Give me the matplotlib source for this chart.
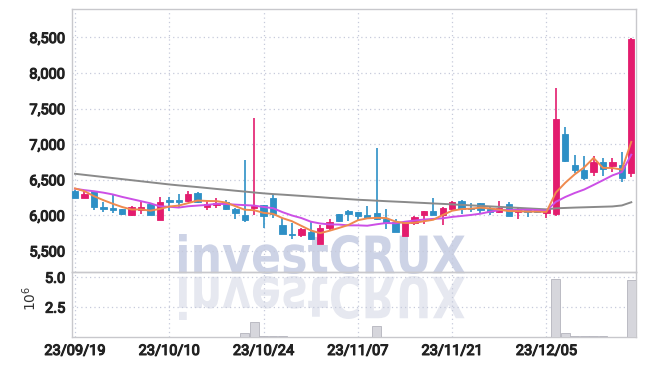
import numpy as np
import pandas as pd
import matplotlib
matplotlib.use('Agg')
import matplotlib.pyplot as plt
import matplotlib.patheffects as pe
from matplotlib.textpath import TextPath
from matplotlib.font_manager import FontProperties
from matplotlib.patches import PathPatch
from matplotlib.transforms import Affine2D

# OHLC per trading day (index 0 = 23/09/19)
opens = [6350, 6245, 6340, 6100, 6100, 6085, 6000, 6080, 6165, 5935,
         6195, 6210, 6200, 6310, 6120, 6145, 6185, 6085, 6000, 6100,
         6140, 6240, 5860, 5745, 5720, 5765, 5600, 5820, 6015, 6055,
         6045, 6005, 6030, 5945, 5905, 5710, 5900, 6010, 6055, 6005,
         6085, 6205, 6110, 6170, 6085, 6045, 6155, 6045, 6060, 6065,
         6040, 6015, 7150, 6715, 6645, 6610, 6755, 6700, 6715, 6600]
highs = [6360, 6340, 6345, 6190, 6295, 6090, 6130, 6195, 6170, 6255,
         6255, 6295, 6345, 6325, 6200, 6250, 6210, 6110, 6785, 7370,
         6145, 6285, 5965, 5890, 5825, 5920, 5860, 5955, 6020, 6075,
         6050, 6130, 6950, 6095, 5945, 5895, 5985, 6060, 6250, 6115,
         6200, 6210, 6170, 6175, 6130, 6205, 6190, 6105, 6065, 6080,
         6095, 7795, 7245, 6855, 6835, 6830, 6810, 6810, 6895, 8490]
lows = [6240, 6240, 6075, 6045, 6040, 6010, 5995, 6015, 6000, 5930,
        6060, 6120, 6195, 6180, 6080, 6100, 6080, 5945, 5905, 6005,
        5825, 5965, 5735, 5665, 5695, 5660, 5595, 5790, 5910, 5920,
        5915, 5955, 5940, 5815, 5760, 5705, 5870, 5875, 6000, 5860,
        6080, 6015, 6045, 6035, 6005, 6040, 5985, 5945, 5980, 6040,
        5965, 5990, 6750, 6600, 6495, 6550, 6550, 6610, 6470, 6545]
closes = [6245, 6295, 6115, 6090, 6075, 6015, 6120, 6120, 6005, 6195,
          6185, 6185, 6295, 6185, 6165, 6175, 6085, 6040, 5935, 6130,
          5990, 6015, 5740, 5720, 5805, 5665, 5825, 5910, 5915, 6015,
          5995, 5960, 5945, 5900, 5765, 5890, 5980, 6055, 6005, 6100,
          6190, 6095, 6085, 6075, 6045, 6110, 5990, 6075, 6045, 6045,
          6090, 7350, 6765, 6635, 6530, 6755, 6655, 6755, 6520, 8480]
# volume in millions
volume = [0.02, 0.02, 0.02, 0.02, 0.02, 0.02, 0.02, 0.02, 0.02, 0.02,
          0.02, 0.02, 0.02, 0.02, 0.02, 0.02, 0.02, 0.02, 0.37, 1.25,
          0.05, 0.05, 0.05, 0.02, 0.02, 0.02, 0.02, 0.02, 0.02, 0.02,
          0.02, 0.02, 0.89, 0.02, 0.02, 0.02, 0.02, 0.02, 0.02, 0.02,
          0.02, 0.02, 0.02, 0.02, 0.02, 0.02, 0.02, 0.02, 0.02, 0.02,
          0.02, 4.87, 0.37, 0.09, 0.09, 0.09, 0.06, 0.04, 0.04, 4.78]

# moving averages: values before enough closes are on screen
ma5_head = [6379, 6341, 6271, 6215]
ma10_head = [6375, 6355, 6340, 6320, 6295, 6260, 6230, 6200, 6170]
ma60 = [6585, 6570, 6555, 6540, 6525, 6510, 6495, 6480, 6465, 6450,
        6435, 6422, 6410, 6398, 6385, 6372, 6360, 6347, 6335, 6322,
        6310, 6300, 6292, 6283, 6274, 6265, 6256, 6246, 6238, 6229,
        6220, 6214, 6207, 6200, 6194, 6188, 6181, 6175, 6168, 6162,
        6155, 6148, 6141, 6134, 6127, 6120, 6113, 6106, 6099, 6092,
        6085, 6100, 6105, 6110, 6114, 6118, 6122, 6126, 6140, 6185]

tick_idx = [0, 10, 20, 30, 40, 50]
tick_labels = ['23/09/19', '23/10/10', '23/10/24', '23/11/07', '23/11/21', '23/12/05']
price_ticks = [5500, 6000, 6500, 7000, 7500, 8000, 8500]

df = pd.DataFrame({'o': opens, 'h': highs, 'l': lows, 'c': closes, 'v': volume})
ma5 = df['c'].rolling(5).mean().values
ma5[:4] = ma5_head
ma10 = df['c'].rolling(10).mean().values
ma10[:9] = ma10_head

RED = '#e31c6e'
BLUE = '#2e90c6'
GRID = '#c6cadb'
SPINE = '#c8c8cc'
LABEL = '#222222'

plt.rcParams['font.family'] = ['Roboto', 'DejaVu Sans']

W, H = 645, 366
fig = plt.figure(figsize=(W / 100, H / 100), dpi=100)
fig.patch.set_facecolor('white')
ax = fig.add_axes([72 / W, (H - 272) / H, 564 / W, 263 / H])
axv = fig.add_axes([72 / W, (H - 337) / H, 564 / W, 65 / H], sharex=ax)

# watermark with reflection, drawn behind both panels
tp = TextPath((0, 0), 'investCRUX', size=100,
              prop=FontProperties(family='DejaVu Sans', weight='bold'))
ext = tp.get_extents()
x0, x1, ytop, ybase = 179, 465, 234, 274
sx = (x1 - x0) / ext.width
sy = (ybase - ytop) / ext.height
to_fig = Affine2D().scale(1 / W, 1 / H) + fig.transFigure
t_main = Affine2D().translate(-ext.x0, -ext.y0).scale(sx, sy).translate(x0, H - ybase)
t_refl = Affine2D().translate(-ext.x0, -ext.y0).scale(sx, -sy * 1.1).translate(x0, H - ybase - 2)
fig.patches.append(PathPatch(tp, transform=t_main + to_fig, facecolor='#cdd3e6',
                             edgecolor='none', zorder=-5))
fig.patches.append(PathPatch(tp, transform=t_refl + to_fig, facecolor='#e6e8f0',
                             edgecolor='none', zorder=-5))

for a in (ax, axv):
    a.set_facecolor('none')
    for s in a.spines.values():
        s.set_color(SPINE)
        s.set_linewidth(1.0)
    a.grid(True, linestyle=(0, (1, 2.5)), color=GRID, linewidth=0.9)
    a.set_axisbelow(True)
    a.tick_params(length=0, labelcolor=LABEL, labelsize=10.5, pad=5)

x = np.arange(len(df))
up = df['c'] >= df['o']
cols = np.where(up, RED, BLUE)

ax.vlines(x, df['l'], df['h'], colors=cols, linewidth=1.2, zorder=3)
body_lo = np.minimum(df['o'], df['c'])
body_h = np.maximum(np.abs(df['c'] - df['o']), 25)
ax.bar(x, body_h, bottom=body_lo, width=0.68, color=cols, edgecolor=cols,
       linewidth=0.6, zorder=4)

ax.plot(x, ma60, color='#8a8a8a', linewidth=1.4, zorder=5)
ax.plot(x, ma10, color='#cc4fe6', linewidth=1.4, zorder=5)
ax.plot(x, ma5, color='#ef8a4e', linewidth=1.4, zorder=6)

ax.set_ylim(5205, 8900)
ax.set_yticks(price_ticks)
ax.set_yticklabels([f'{p:,}' for p in price_ticks])
ax.set_xlim(-0.32, 59.5)
ax.set_xticks(tick_idx)
ax.tick_params(labelbottom=False)

axv.bar(x, df['v'], width=0.95, color='#d6d6dc', edgecolor='#b4b4bc', linewidth=0.6, zorder=3)
axv.set_ylim(0, 5.44)
axv.set_yticks([2.5, 5.0])
axv.set_yticklabels(['2.5', '5.0'])
axv.set_xticks(tick_idx)
axv.set_xticklabels(tick_labels, fontsize=10.5)
axv.set_ylabel('$10^6$', fontsize=10, color='#333333')
axv.yaxis.set_label_coords(-0.058, 0.6)

# heavier tick labels
bold = [pe.withStroke(linewidth=0.8, foreground=LABEL)]
for lbl in ax.get_yticklabels() + axv.get_yticklabels() + axv.get_xticklabels():
    lbl.set_path_effects(bold)

fig.savefig('out.png', dpi=100, facecolor='white')
